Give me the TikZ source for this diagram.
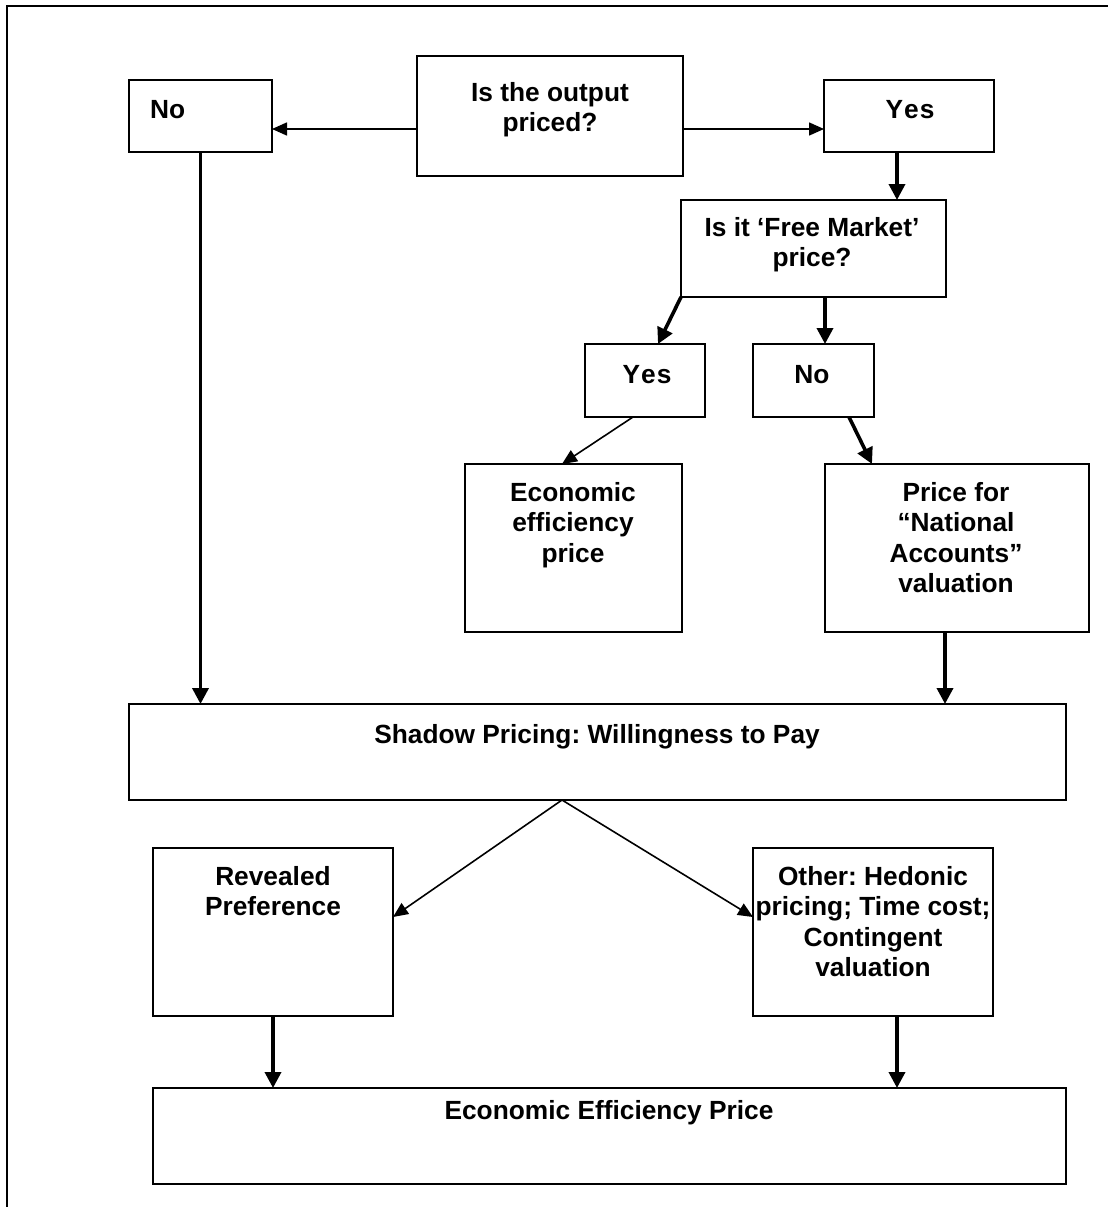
\documentclass[tikz,border=0pt]{standalone}
\usepackage{fontspec}
\setmainfont{Liberation Sans}
\usetikzlibrary{arrows.meta}
\frenchspacing
\newcommand\mybox[5]{\node[box, minimum width={#4pt-#2pt}, minimum height={#5pt-#3pt}] (#1) at ({(#2+#4)/2},{(#3+#5)/2}) {};}
\newcommand\ml[1]{\begin{tabular}[t]{@{}c@{}}#1\end{tabular}}
\begin{document}
\begin{tikzpicture}[x=1pt,y=-1pt,
  box/.style={draw, line width=1.6pt, inner sep=0pt, outer sep=0pt},
  txt/.style={anchor=base, inner sep=0pt, font=\fontsize{26.3}{30.5}\selectfont\bfseries\frenchspacing},
  thinarr/.style={line width=1.6pt, -{Triangle[length=15pt,width=13pt]}},
  thickarr/.style={line width=3.6pt, -{Triangle[length=16pt,width=16pt]}},
]
\useasboundingbox (0,0) rectangle (1108,1207);
\coordinate (fbl) at (7,1207);
\coordinate (ftl) at (7,6);
\coordinate (ftr) at (1108,6);
\draw[line width=1.6pt] (fbl) -- (ftl) -- (ftr);

\mybox{noA}{129}{80}{272}{152}
\mybox{q}{417}{56}{683}{176}
\mybox{yesA}{824}{80}{994}{152}
\mybox{fm}{681}{200}{946}{297}
\mybox{yesB}{585}{344}{705}{417}
\mybox{noB}{753}{344}{874}{417}
\mybox{ee}{465}{464}{682}{632}
\mybox{nat}{825}{464}{1089}{632}
\mybox{shadow}{129}{704}{1066}{800}
\mybox{rev}{153}{848}{393}{1016}
\mybox{other}{753}{848}{993}{1016}
\mybox{eep}{153}{1088}{1066}{1184}

\node[txt, anchor=base west] (tnoA) at (150,118) {No};
\node[txt] (tq) at (550,101) {\ml{Is the output\\priced?}};
\node[txt] (tyesA) at (910,118) {Y\kern1pt e\kern1pt s};
\node[txt] (tfm) at (812,236) {\ml{Is it ‘Free Market’\\price?}};
\node[txt] (tyesB) at (647,383) {Y\kern1pt e\kern1pt s};
\node[txt] (tnoB) at (812,383) {No};
\node[txt] (tee) at (573,501) {\ml{Economic\\efficiency\\price}};
\node[txt] (tnat) at (956,501) {\ml{Price for\\“National\\Accounts”\\valuation}};
\node[txt] (tshadow) at (597,743) {Shadow Pricing: Willingness to Pay};
\node[txt] (trev) at (273,885) {\ml{Revealed\\Preference}};
\node[txt] (tother) at (873,885) {\ml{Other: Hedonic\\pricing; Time cost;\\Contingent\\valuation}};
\node[txt] (teep) at (609,1119) {Economic Efficiency Price};

\draw[thinarr] ([yshift=-13pt]q.west) -- ([yshift=-13pt]noA.east);
\draw[thinarr] ([yshift=-13pt]q.east) -- ([yshift=-13pt]yesA.west);
\draw[thickarr] ([xshift=-12pt]yesA.south) -- ([xshift=-12pt]yesA.south |- fm.north);
\draw[thickarr] (fm.south west) -- ([xshift=13pt]yesB.north);
\draw[thickarr] ([xshift=11.5pt]noB.north |- fm.south) -- ([xshift=11.5pt]noB.north);
\draw[thinarr] ([xshift=-12pt]yesB.south) -- ([xshift=-11.5pt]ee.north);
\draw[thickarr] ([xshift=35.5pt]noB.south) -- ([xshift=-85pt]nat.north);
\draw[thickarr] (noA.south) -- (noA.south |- shadow.north);
\draw[thickarr] ([xshift=-12pt]nat.south) -- ([xshift=-12pt]nat.south |- shadow.north);
\draw[thinarr] ([xshift=-35.5pt]shadow.south) -- ([yshift=15pt]rev.east);
\draw[thinarr] ([xshift=-35.5pt]shadow.south) -- ([yshift=15pt]other.west);
\draw[thickarr] (rev.south) -- (rev.south |- eep.north);
\draw[thickarr] ([xshift=24pt]other.south) -- ([xshift=24pt]other.south |- eep.north);
\end{tikzpicture}
\end{document}
